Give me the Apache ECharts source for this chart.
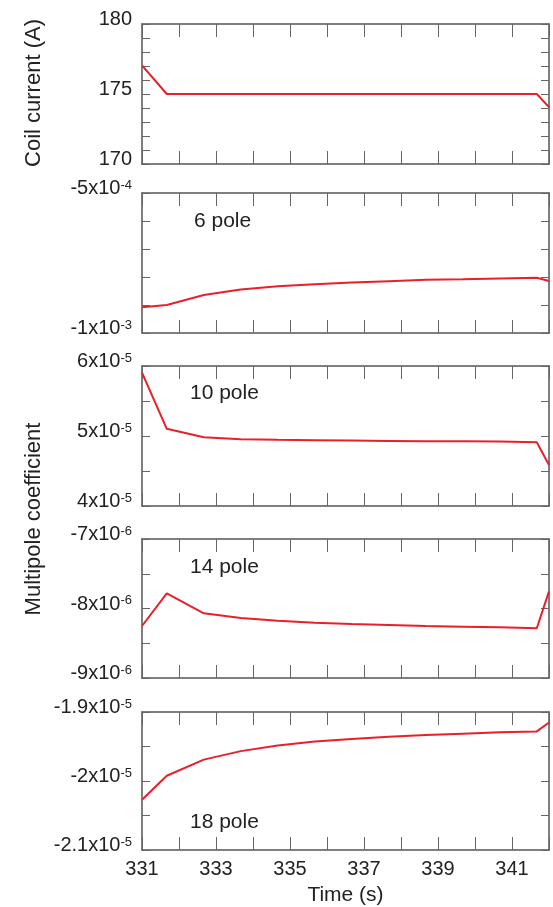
<!DOCTYPE html>
<html><head><meta charset="utf-8">
<script src="https://cdn.jsdelivr.net/npm/echarts@6/dist/echarts.min.js"></script>
<style>html,body{margin:0;padding:0;background:#fff}#c{width:553px;height:907px}</style>
</head><body><div id="c"></div>
<script>
// ---- data ----
const times = [331, 331.67, 332.67, 333.67, 334.67, 335.67, 336.67, 337.67, 338.67, 339.67, 340.67, 341.67, 342];
const coilCurrent = [177.04, 175, 175, 175, 175, 175, 175, 175, 175, 175, 175, 175, 174.06];
const pole6 = [-9.08e-4, -9.0e-4, -8.64e-4, -8.45e-4, -8.33e-4, -8.26e-4, -8.20e-4, -8.15e-4, -8.10e-4, -8.08e-4, -8.05e-4, -8.03e-4, -8.14e-4];
const pole10 = [5.904e-5, 5.103e-5, 4.983e-5, 4.954e-5, 4.945e-5, 4.940e-5, 4.935e-5, 4.930e-5, 4.926e-5, 4.926e-5, 4.921e-5, 4.911e-5, 4.585e-5];
const pole14 = [-8.252e-6, -7.782e-6, -8.07e-6, -8.137e-6, -8.175e-6, -8.204e-6, -8.223e-6, -8.237e-6, -8.252e-6, -8.261e-6, -8.271e-6, -8.285e-6, -7.753e-6];
const pole18 = [-2.0271e-5, -1.9924e-5, -1.969e-5, -1.9567e-5, -1.9486e-5, -1.9429e-5, -1.939e-5, -1.9357e-5, -1.9333e-5, -1.9314e-5, -1.9295e-5, -1.9281e-5, -1.9152e-5];

const xTickLabels = [331, 333, 335, 337, 339, 341];

const panelNames = ['', '6 pole', '10 pole', '14 pole', '18 pole'];
const yMins = [170, -1e-3, 4e-5, -9e-6, -2.1e-5];
const yMaxs = [180, -5e-4, 6e-5, -7e-6, -1.9e-5];
const ySteps = [1, 1e-4, 5e-6, 5e-7, 5e-7];
// labelled ticks: [value, base text, superscript]
const p1Labels = [[170, '170', ''], [175, '175', ''], [180, '180', '']];
const p2Labels = [[-1e-3, '-1x10', '-3'], [-5e-4, '-5x10', '-4']];
const p3Labels = [[4e-5, '4x10', '-5'], [5e-5, '5x10', '-5'], [6e-5, '6x10', '-5']];
const p4Labels = [[-9e-6, '-9x10', '-6'], [-8e-6, '-8x10', '-6'], [-7e-6, '-7x10', '-6']];
const p5Labels = [[-2.1e-5, '-2.1x10', '-5'], [-2e-5, '-2x10', '-5'], [-1.9e-5, '-1.9x10', '-5']];

const seriesData = [coilCurrent, pole6, pole10, pole14, pole18];
const labelSets = [p1Labels, p2Labels, p3Labels, p4Labels, p5Labels];

// ---- layout ----
const tops = [24, 193, 366, 539, 712];
const heights = [140, 140, 140, 139, 140];
const FONT = 'Liberation Sans, Arial, sans-serif';
const TXT = '#222';
const FRAME = '#555';
const RED = '#e8202a';

const grids = [], xAxes = [], yAxes = [], series = [];
for (let i = 0; i < 5; i++) {
  grids.push({left: 142, right: 4, top: tops[i], height: heights[i], show: false});
  const last = i === 4;
  const xBase = {
    type: 'value', gridIndex: i, min: 331, max: 342, interval: 1,
    axisLine: {show: true, lineStyle: {color: FRAME, width: 1.5}},
    axisTick: {show: true, inside: true, length: 13, lineStyle: {color: '#666', width: 1}},
    splitLine: {show: false}
  };
  xAxes.push(Object.assign({}, xBase, {
    position: 'bottom',
    axisLabel: {
      show: last, margin: 9, fontSize: 20, fontFamily: FONT, color: TXT,
      formatter: v => xTickLabels.some(t => Math.abs(t - v) < 1e-6) ? String(v) : ''
    },
    name: last ? 'Time (s)' : '', nameLocation: 'middle', nameGap: 35,
    nameTextStyle: {fontSize: 21, fontFamily: FONT, color: TXT}
  }));
  xAxes.push(Object.assign({}, xBase, {position: 'top', axisLabel: {show: false}}));
  const labels = labelSets[i];
  const step = ySteps[i];
  const yBase = {
    type: 'value', gridIndex: i, min: yMins[i], max: yMaxs[i], interval: step,
    axisLine: {show: true, lineStyle: {color: FRAME, width: 1.5}},
    axisTick: {show: true, inside: true, length: 8, lineStyle: {color: '#666', width: 1}},
    splitLine: {show: false}
  };
  yAxes.push(Object.assign({}, yBase, {
    position: 'left',
    axisLabel: {
      show: true, margin: 10, color: TXT, fontFamily: FONT, fontSize: 20,
      padding: [0, 0, 9, 0],
      formatter: v => {
        const m = labels.find(l => Math.abs(l[0] - v) < step * 0.01);
        if (!m) return '';
        return m[2] ? '{b|' + m[1] + '}{s|' + m[2] + '}' : '{b|' + m[1] + '}';
      },
      rich: {
        b: {fontSize: 20, fontFamily: FONT, color: TXT},
        s: {fontSize: 13, fontFamily: FONT, color: TXT, padding: [0, 0, 7, 0]}
      }
    }
  }));
  yAxes.push(Object.assign({}, yBase, {position: 'right', axisLabel: {show: false}}));
  series.push({
    type: 'line', xAxisIndex: 2 * i, yAxisIndex: 2 * i,
    data: times.map((t, k) => [t, seriesData[i][k]]),
    showSymbol: false, symbol: 'none',
    lineStyle: {color: RED, width: 2}, itemStyle: {color: RED},
    animation: false
  });
}

const poleLabelPos = [null, [194, 221], [190, 393], [190, 567], [190, 822]];
const graphic = [
  {type: 'text', x: 34, y: 93, rotation: Math.PI / 2,
   style: {text: 'Coil current (A)', fontSize: 22, fontFamily: FONT, fill: TXT, align: 'center', verticalAlign: 'middle'}},
  {type: 'text', x: 34, y: 519, rotation: Math.PI / 2,
   style: {text: 'Multipole coefficient', fontSize: 22, fontFamily: FONT, fill: TXT, align: 'center', verticalAlign: 'middle'}}
];
for (let i = 1; i < 5; i++) {
  graphic.push({type: 'text', x: poleLabelPos[i][0], y: poleLabelPos[i][1],
    style: {text: panelNames[i], fontSize: 21, fontFamily: FONT, fill: TXT, align: 'left', verticalAlign: 'middle'}});
}

const chart = echarts.init(document.getElementById('c'), null, {renderer: 'canvas'});
chart.setOption({
  animation: false,
  backgroundColor: '#fff',
  grid: grids, xAxis: xAxes, yAxis: yAxes, series: series, graphic: graphic
});
</script></body></html>
